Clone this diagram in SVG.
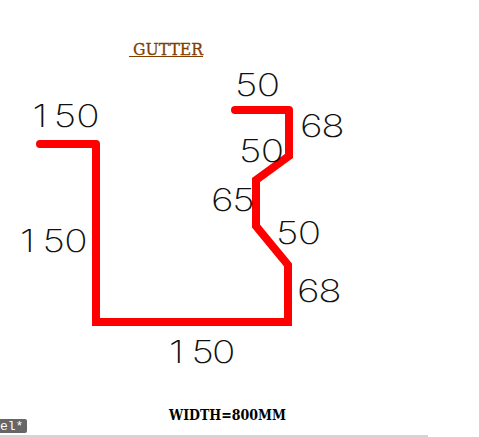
<svg xmlns="http://www.w3.org/2000/svg" width="479" height="437" viewBox="0 0 479 437">
<style>
.dim{font-family:"Inter","Liberation Sans",sans-serif;font-weight:200;font-size:31px;fill:#111}
.ser{font-family:"DejaVu Serif","Liberation Serif",serif}
</style>
<rect width="479" height="437" fill="#fff"/>
<g id="connectors">
<polyline points="96,144 96,322 288,322 288,265 256,226 256,180 289,156 289,110" fill="none" stroke="#f00" stroke-width="8" stroke-linejoin="miter"/>
<path d="M40,144H96M235,110H289" fill="none" stroke="#f00" stroke-width="8" stroke-linecap="round"/>
</g>
<g id="title">
<text class="ser" x="133" y="55" font-size="17" fill="#7f3f00" stroke="#7f3f00" stroke-width="0.3" textLength="70" lengthAdjust="spacingAndGlyphs">GUTTER</text>
<line x1="129" y1="56.5" x2="203" y2="56.5" stroke="#7f3f00" stroke-width="1"/>
</g>
<g id="labels">
<text class="dim" transform="translate(30,127) scale(1.25,1)" x="2 19 37" y="0">150</text>
<text class="dim" transform="translate(235,96) scale(1.25,1)" x="0 17.5" y="0">50</text>
<text class="dim" transform="translate(300,137) scale(1.25,1)" x="0 17" y="0">68</text>
<text class="dim" transform="translate(239,162) scale(1.25,1)" x="0 17.5" y="0">50</text>
<text class="dim" transform="translate(211,211) scale(1.25,1)" x="0 17" y="0">65</text>
<text class="dim" transform="translate(276,244) scale(1.25,1)" x="0 17.5" y="0">50</text>
<text class="dim" transform="translate(297,302) scale(1.25,1)" x="0 17" y="0">68</text>
<text class="dim" transform="translate(20,252) scale(1.25,1)" x="0 18 35.5" y="0">150</text>
<text class="dim" transform="translate(169,363) scale(1.25,1)" x="0 18 34.5" y="0">150</text>
</g>
<g id="note">
<text class="ser" x="169" y="420" font-size="14" font-weight="700" fill="#000" textLength="117" lengthAdjust="spacingAndGlyphs">WIDTH=800MM</text>
</g>
<g id="tab">
<rect x="-4" y="419" width="31" height="14" rx="2" fill="#666"/>
<text x="0" y="430" font-family="'Liberation Mono',monospace" font-size="13" fill="#fff">el*</text>
</g>
<line x1="0" y1="436" x2="428" y2="436" stroke="#aaa" stroke-width="1"/>
</svg>
